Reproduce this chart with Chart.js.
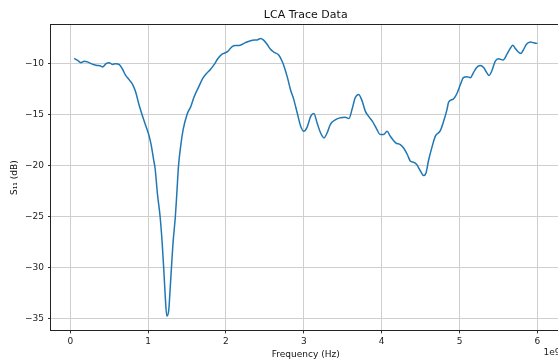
<!DOCTYPE html>
<html>
<head>
<meta charset="utf-8">
<script src="https://cdn.jsdelivr.net/npm/chart.js@4/dist/chart.umd.min.js"></script>
<style>
html,body{margin:0;padding:0;background:#fff;overflow:hidden;width:558px;height:360px;}
#wrap{position:absolute;left:0;top:0;width:561px;height:360px;}
</style>
</head>
<body>
<div id="wrap"><canvas id="c" width="561" height="360"></canvas></div>
<script>
const freqGHz = [
  0.05,0.095,0.137,0.18,0.22,0.29,0.35,0.39,0.415,0.46,0.50,0.54,0.585,0.63,0.67,0.71,0.76,0.80,0.84,0.885,
  0.93,0.97,1.005,1.04,1.07,1.09,1.12,1.154,1.18,1.20,1.22,1.24,1.265,1.28,1.30,1.32,1.35,1.37,1.39,1.42,
  1.45,1.50,1.55,1.59,1.65,1.70,1.75,1.80,1.85,1.89,1.95,2.02,2.08,2.12,2.17,2.25,2.34,2.40,2.445,2.48,
  2.53,2.57,2.615,2.68,2.72,2.745,2.79,2.83,2.87,2.915,2.96,3.00,3.04,3.09,3.13,3.17,3.215,3.26,3.30,3.34,
  3.41,3.47,3.53,3.58,3.62,3.66,3.705,3.75,3.79,3.83,3.88,3.94,3.98,4.025,4.07,4.11,4.18,4.24,4.28,4.33,
  4.37,4.41,4.45,4.50,4.54,4.57,4.60,4.65,4.69,4.75,4.795,4.84,4.86,4.92,4.97,5.01,5.05,5.095,5.14,5.18,
  5.22,5.265,5.31,5.35,5.38,5.415,5.46,5.50,5.56,5.61,5.65,5.685,5.71,5.755,5.79,5.82,5.86,5.91,5.95,6.00
];
const s11dB = [
  -9.51,-9.71,-9.93,-9.78,-9.85,-10.1,-10.2,-10.26,-10.35,-10.03,-9.93,-10.1,-10.03,-10.12,-10.55,-11.15,-11.64,-12.06,-12.8,-14.1,
  -15.2,-16.1,-16.9,-18.0,-19.4,-20.3,-22.8,-25.0,-27.5,-30.0,-32.8,-34.75,-34.2,-32.5,-30.0,-27.6,-25.0,-22.6,-20.1,-18.0,
  -16.5,-15.0,-14.2,-13.3,-12.3,-11.5,-11.0,-10.6,-10.1,-9.6,-9.1,-8.85,-8.35,-8.25,-8.25,-7.97,-7.74,-7.7,-7.57,-7.7,
  -8.15,-8.6,-8.9,-9.2,-9.77,-10.26,-11.4,-12.6,-13.5,-14.84,-16.15,-16.64,-16.3,-15.17,-14.9,-15.82,-16.8,-17.3,-16.8,-15.99,
  -15.5,-15.33,-15.27,-15.4,-14.5,-13.37,-13.04,-13.7,-14.68,-15.17,-15.66,-16.48,-16.97,-16.97,-16.64,-17.13,-17.78,-17.95,-18.27,-18.93,
  -19.59,-19.69,-19.91,-20.57,-20.99,-20.73,-19.59,-18.11,-17.13,-16.64,-15.7,-14.5,-13.8,-13.5,-12.9,-12.1,-11.4,-11.3,-11.4,-10.9,
  -10.4,-10.2,-10.4,-10.9,-11.18,-10.75,-9.77,-9.54,-9.67,-9.1,-8.56,-8.23,-8.46,-8.89,-9.02,-8.69,-8.13,-7.9,-7.97,-8.04
];
const xTickValues = [0, 1, 2, 3, 4, 5, 6];
const yTickValues = [-35, -30, -25, -20, -15, -10];
const chartTitle = 'LCA Trace Data';
const xLabel = 'Frequency (Hz)';
const yLabel = 'S\u2081\u2081 (dB)';
const xOffsetText = '1e9';

const FONT = "'DejaVu Sans', sans-serif";
const points = freqGHz.map((f, i) => ({x: f * 1e9, y: s11dB[i]}));

const framePlugin = {
  id: 'frame',
  afterDraw(chart) {
    const {ctx, chartArea: a} = chart;
    ctx.save();
    ctx.strokeStyle = '#222';
    ctx.lineWidth = 1;
    ctx.strokeRect(Math.round(a.left) - 0.5, Math.round(a.top) - 0.5, Math.round(a.right - a.left) + 1, Math.round(a.bottom - a.top) + 1);
    ctx.fillStyle = '#222';
    ctx.font = '9px ' + FONT;
    ctx.textAlign = 'right';
    ctx.textBaseline = 'middle';
    ctx.fillText(xOffsetText, a.right, 353);
    ctx.restore();
  }
};

new Chart(document.getElementById('c'), {
  type: 'line',
  data: {
    datasets: [{
      data: points,
      borderColor: '#1f77b4',
      borderWidth: 1.5,
      pointRadius: 0,
      fill: false,
      cubicInterpolationMode: 'monotone'
    }]
  },
  options: {
    responsive: false,
    animation: false,
    devicePixelRatio: 1,
    layout: {padding: {left: 2, right: 0.5, top: 0, bottom: 0}},
    plugins: {
      legend: {display: false},
      tooltip: {enabled: false},
      title: {
        display: true,
        fullSize: false,
        text: chartTitle,
        color: '#111',
        font: {family: FONT, size: 11, weight: 'normal'},
        padding: {top: 9, bottom: 2.8}
      }
    },
    scales: {
      x: {
        type: 'linear',
        min: -0.2475e9,
        max: 6.2975e9,
        afterBuildTicks: s => { s.ticks = xTickValues.map(v => ({value: v * 1e9})); },
        ticks: {
          callback: v => String(Math.round(v / 1e9)),
          color: '#222',
          font: {family: FONT, size: 9},
          padding: 2.5,
          maxRotation: 0
        },
        grid: {color: '#cfcfcf', lineWidth: 1, tickLength: 3, tickColor: '#333', drawTicks: true},
        border: {display: false},
        title: {display: true, text: xLabel, color: '#111', font: {family: FONT, size: 9}, padding: {top: 0, bottom: 0}}
      },
      y: {
        min: -36.16,
        max: -6.24,
        afterBuildTicks: s => { s.ticks = yTickValues.map(v => ({value: v})); },
        ticks: {
          callback: v => String(v).replace('-', '\u2212'),
          color: '#222',
          font: {family: FONT, size: 9},
          padding: 4
        },
        grid: {color: '#cfcfcf', lineWidth: 1, tickLength: 3, tickColor: '#333', drawTicks: true},
        border: {display: false},
        title: {display: true, text: yLabel, color: '#111', font: {family: FONT, size: 9}, padding: {top: 7.7, bottom: 0.5}}
      }
    }
  },
  plugins: [framePlugin]
});
</script>
</body>
</html>
